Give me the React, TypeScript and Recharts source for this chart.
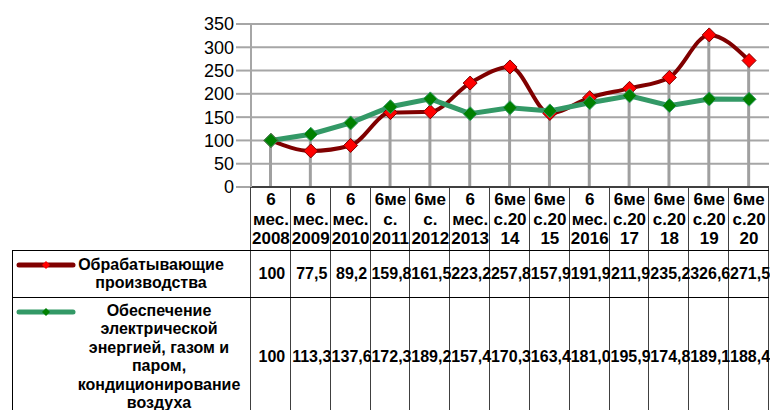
import React from "react";
import {
  ComposedChart,
  Line,
  Bar,
  XAxis,
  YAxis,
  CartesianGrid,
} from "recharts";

const categories = [
  "6\nмес.\n2008",
  "6\nмес.\n2009",
  "6\nмес.\n2010",
  "6ме\nс.\n2011",
  "6ме\nс.\n2012",
  "6\nмес.\n2013",
  "6ме\nс.20\n14",
  "6ме\nс.20\n15",
  "6\nмес.\n2016",
  "6ме\nс.20\n17",
  "6ме\nс.20\n18",
  "6ме\nс.20\n19",
  "6ме\nс.20\n20",
];

const manufacturing = [100, 77.5, 89.2, 159.8, 161.5, 223.2, 257.8, 157.9, 191.9, 211.9, 235.2, 326.6, 271.5];
const energy = [100, 113.3, 137.6, 172.3, 189.2, 157.4, 170.3, 163.4, 181.0, 195.9, 174.8, 189.1, 188.4];

const yTicks = [0, 50, 100, 150, 200, 250, 300, 350];

const manufacturingName = ["Обрабатывающие", "производства"];
const energyName = [
  "Обеспечение",
  "электрической",
  "энергией, газом и",
  "паром,",
  "кондиционирование",
  "воздуха",
];

const data = categories.map((name, i) => ({
  name,
  manufacturing: manufacturing[i],
  energy: energy[i],
  drop: Math.max(manufacturing[i], energy[i]),
}));

const FONT = '"Liberation Sans", Arial, sans-serif';
const PLOT_LEFT = 251;
const PLOT_RIGHT = 769;
const PLOT_BOTTOM = 187;
const COL_W = (PLOT_RIGHT - PLOT_LEFT) / categories.length;

const fmt = (v: number) => (v === 100 ? "100" : v.toFixed(1).replace(".", ","));

const Diamond = (fill: string, stroke: string, r: number) => (props: any) => {
  const { cx, cy, index } = props;
  if (cx == null || cy == null) return <g key={index} />;
  return (
    <path
      key={index}
      d={`M${cx},${cy - r}L${cx + r},${cy}L${cx},${cy + r}L${cx - r},${cy}Z`}
      fill={fill}
      stroke={stroke}
      strokeWidth={1}
    />
  );
};

const CategoryTick = (props: any) => {
  const { x, payload } = props;
  const lines = String(payload.value).split("\n");
  return (
    <text textAnchor="middle" fontFamily={FONT} fontSize={17} fontWeight="bold" fill="#000">
      {lines.map((l, i) => (
        <tspan key={i} x={x} y={PLOT_BOTTOM + 18 + i * 19.5}>
          {l}
        </tspan>
      ))}
    </text>
  );
};

const Swatch = ({ color, dot }: { color: string; dot: string }) => (
  <svg width={60} height={10} style={{ position: "absolute", left: 3, top: 9 }}>
    <line x1={3} y1={5} x2={57} y2={5} stroke={color} strokeWidth={5} strokeLinecap="round" />
    <path d="M30,1L34,5L30,9L26,5Z" fill={dot} />
  </svg>
);

const rows = [
  { values: manufacturing, label: manufacturingName, height: 46, color: "#800000", dot: "#FF0000", shift: -13 },
  { values: energy, label: energyName, height: 118, color: "#339966", dot: "#008000", shift: -5 },
];

export default function App() {
  return (
    <div
      style={{
        position: "absolute",
        left: 0,
        top: 0,
        width: 770,
        height: 410,
        overflow: "hidden",
        background: "#fff",
        fontFamily: FONT,
      }}
    >
      <ComposedChart
        width={770}
        height={250}
        data={data}
        margin={{ top: 24, right: 1, bottom: 0, left: 0 }}
      >
        <CartesianGrid vertical={false} stroke="#A6A6A6" strokeWidth={2} />
        <XAxis
          dataKey="name"
          interval={0}
          height={63}
          tick={<CategoryTick />}
          tickLine={false}
          axisLine={{ stroke: "#404040", strokeWidth: 2 }}
        />
        <YAxis
          width={251}
          domain={[0, 350]}
          ticks={yTicks}
          interval={0}
          tickSize={15}
          tickMargin={2}
          axisLine={{ stroke: "#A6A6A6", strokeWidth: 2 }}
          tickLine={{ stroke: "#A6A6A6", strokeWidth: 2 }}
          tick={{ fill: "#000", fontSize: 18, fontFamily: FONT }}
        />
        <Bar dataKey="drop" barSize={3} fill="#A0A0A0" isAnimationActive={false} />
        <Line
          type="monotone"
          dataKey="manufacturing"
          stroke="#800000"
          strokeWidth={4}
          dot={Diamond("#FF0000", "#800000", 7)}
          isAnimationActive={false}
        />
        <Line
          type="linear"
          dataKey="energy"
          stroke="#339966"
          strokeWidth={5}
          dot={Diamond("#008000", "#339966", 7)}
          isAnimationActive={false}
        />
      </ComposedChart>

      {/* data table grid lines */}
      {Array.from({ length: categories.length + 1 }).map((_, i) => (
        <div
          key={i}
          style={{
            position: "absolute",
            left: Math.round(PLOT_LEFT + i * COL_W) - 1,
            top: PLOT_BOTTOM,
            width: 1,
            height: 410 - PLOT_BOTTOM,
            background: "#404040",
          }}
        />
      ))}

      <div style={{ position: "absolute", left: 12, top: 250, width: PLOT_RIGHT - 12 }}>
        {rows.map((r, ri) => (
          <div
            key={ri}
            style={{
              position: "relative",
              height: r.height,
              borderTop: "1px solid #000",
              borderLeft: "1px solid #000",
            }}
          >
            <Swatch color={r.color} dot={r.dot} />
            <div
              style={{
                position: "absolute",
                left: 63 + r.shift,
                width: PLOT_LEFT - 12 - 63,
                top: 0,
                height: r.height,
                display: "flex",
                flexDirection: "column",
                justifyContent: "center",
                alignItems: "center",
                fontSize: 16,
                fontWeight: "bold",
                lineHeight: "18.5px",
                textAlign: "center",
                whiteSpace: "nowrap",
              }}
            >
              {r.label.map((l, k) => (
                <div key={k}>{l}</div>
              ))}
            </div>
            {r.values.map((v, i) => (
              <div
                key={i}
                style={{
                  position: "absolute",
                  left: PLOT_LEFT - 12 + i * COL_W,
                  width: COL_W,
                  top: 0,
                  height: r.height,
                  display: "flex",
                  alignItems: "center",
                  justifyContent: "center",
                  fontSize: 16,
                  fontWeight: "bold",
                  whiteSpace: "nowrap",
                }}
              >
                {fmt(v)}
              </div>
            ))}
          </div>
        ))}
      </div>
    </div>
  );
}
